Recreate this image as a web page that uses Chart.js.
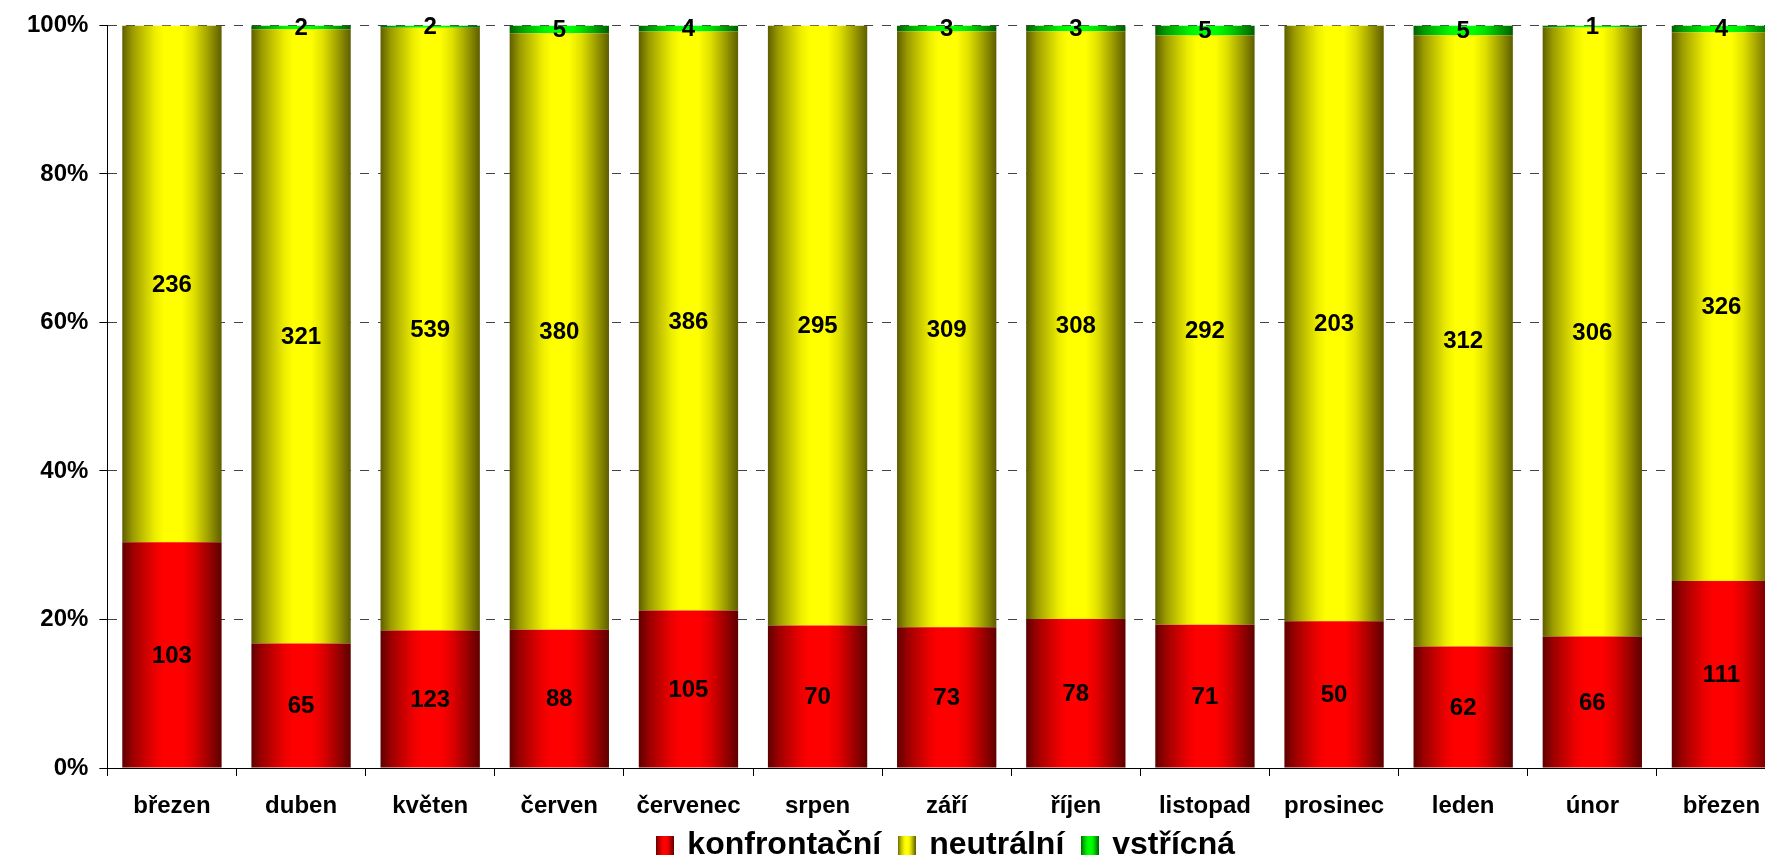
<!DOCTYPE html>
<html lang="cs">
<head>
  <meta charset="UTF-8" />
  <title>Konfrontační, neutrální a vstřícná vystoupení</title>
  <script src="https://cdn.jsdelivr.net/npm/chart.js"></script>
  <style>
    html, body {
      margin: 0;
      padding: 0;
      background: #fff;
      overflow: hidden;
    }
    .chart-wrap {
      width: 1882px;
      height: 889px;
    }
  </style>
</head>
<body>
  <div class="chart-wrap">
    <canvas id="toneChart" width="1882" height="889"></canvas>
  </div>

  <script>
    // Data
    const months = ['březen', 'duben', 'květen', 'červen', 'červenec', 'srpen', 'září',
                    'říjen', 'listopad', 'prosinec', 'leden', 'únor', 'březen'];
    const confrontational = [103, 65, 123, 88, 105, 70, 73, 78, 71, 50, 62, 66, 111];
    const neutral = [236, 321, 539, 380, 386, 295, 309, 308, 292, 203, 312, 306, 326];
    const friendly = [0, 2, 2, 5, 4, 0, 3, 3, 5, 0, 5, 1, 4];
    const seriesNames = ['konfrontační', 'neutrální', 'vstřícná'];
    const yTickStep = 20;
    const yTickSuffix = '%';

    const totals = months.map((_, i) => confrontational[i] + neutral[i] + friendly[i]);
    const share = arr => arr.map((v, i) => v / totals[i] * 100);

    const FONT = '"Liberation Sans", Arial, sans-serif';
    const BAR_PCT = 100 / 130;

    // horizontal "cylinder" shading, dark edges / bright middle
    const shadeStops = [0, 0.1, 0.2, 0.33, 0.42, 0.6, 0.72, 0.85, 1];
    const shadeLevels = [0.37, 0.6, 0.75, 0.93, 1, 1, 0.88, 0.65, 0.37];

    function tint(rgb, k) {
      return 'rgb(' + rgb.map(c => Math.round(c * k)).join(',') + ')';
    }

    function addStops(grad, rgb) {
      shadeStops.forEach((s, i) => grad.addColorStop(s, tint(rgb, shadeLevels[i])));
      return grad;
    }

    function barFill(rgb) {
      return (ctx) => {
        const chart = ctx.chart;
        const xs = chart.scales.x;
        if (ctx.type !== 'data' || !xs) return tint(rgb, 1);
        const cx = xs.getPixelForValue(ctx.dataIndex);
        const half = xs.width / months.length * BAR_PCT / 2;
        const g = chart.ctx.createLinearGradient(cx - half, 0, cx + half, 0);
        return addStops(g, rgb);
      };
    }

    function swatch(rgb) {
      const cv = document.createElement('canvas');
      cv.width = 18;
      cv.height = 19;
      const c = cv.getContext('2d');
      c.fillStyle = addStops(c.createLinearGradient(0, 0, 18, 0), rgb);
      c.fillRect(0, 0, 18, 19);
      return cv;
    }

    const red = [255, 0, 0];
    const yellow = [255, 255, 0];
    const green = [0, 255, 0];
    const swatches = [swatch(red), swatch(yellow), swatch(green)];

    // count labels centred in every non-empty segment
    const countLabels = {
      id: 'countLabels',
      afterDatasetsDraw(chart) {
        const c = chart.ctx;
        c.save();
        c.font = 'bold 24px ' + FONT;
        c.fillStyle = '#000';
        c.textAlign = 'center';
        c.textBaseline = 'middle';
        chart.data.datasets.forEach((ds, di) => {
          chart.getDatasetMeta(di).data.forEach((bar, i) => {
            const n = ds.counts[i];
            if (!n) return;
            c.fillText(String(n), bar.x, (bar.y + bar.base) / 2 + 1);
          });
        });
        c.restore();
      }
    };

    // centre the legend under the plot area and pull it closer to the axis labels
    const legendUnderPlot = {
      id: 'legendUnderPlot',
      afterLayout(chart) {
        const lg = chart.legend;
        if (!lg) return;
        lg.left = chart.chartArea.left;
        lg.right = chart.chartArea.right;
        lg.top -= 18;
        lg.bottom -= 18;
      }
    };

    const ctx = document.getElementById('toneChart').getContext('2d');

    new Chart(ctx, {
      type: 'bar',
      data: {
        labels: months,
        datasets: [
          { label: seriesNames[0], data: share(confrontational), counts: confrontational, backgroundColor: barFill(red) },
          { label: seriesNames[1], data: share(neutral), counts: neutral, backgroundColor: barFill(yellow) },
          { label: seriesNames[2], data: share(friendly), counts: friendly, backgroundColor: barFill(green) }
        ]
      },
      options: {
        responsive: false,
        animation: false,
        barPercentage: BAR_PCT,
        categoryPercentage: 1,
        layout: {
          padding: { left: 16, right: 96, top: 23, bottom: 0 }
        },
        scales: {
          x: {
            stacked: true,
            afterFit: scale => { scale.height = 60; },
            grid: {
              drawOnChartArea: false,
              drawTicks: true,
              tickLength: 8,
              tickColor: '#000',
              offset: true
            },
            border: { color: '#000', width: 1 },
            ticks: {
              color: '#000',
              padding: 16,
              maxRotation: 0,
              autoSkip: false,
              font: { family: FONT, size: 24, weight: 'bold' }
            }
          },
          y: {
            stacked: true,
            min: 0,
            max: 100,
            grid: {
              color: '#444',
              tickColor: '#000',
              tickLength: 8,
              tickBorderDash: []
            },
            border: { color: '#000', width: 1, dash: [9, 9] },
            ticks: {
              stepSize: yTickStep,
              color: '#000',
              padding: 11,
              font: { family: FONT, size: 24, weight: 'bold' },
              callback: v => v + yTickSuffix
            }
          }
        },
        plugins: {
          tooltip: { enabled: false },
          legend: {
            position: 'bottom',
            labels: {
              usePointStyle: true,
              boxWidth: 13,
              boxHeight: 19,
              padding: 19,
              color: '#000',
              font: { family: FONT, size: 32, weight: 'bold' },
              generateLabels(chart) {
                return chart.data.datasets.map((ds, i) => ({
                  text: ds.label,
                  pointStyle: swatches[i],
                  fillStyle: '#000',
                  strokeStyle: 'transparent',
                  lineWidth: 0,
                  hidden: !chart.isDatasetVisible(i),
                  datasetIndex: i
                }));
              }
            }
          }
        }
      },
      plugins: [countLabels, legendUnderPlot]
    });
  </script>
</body>
</html>
